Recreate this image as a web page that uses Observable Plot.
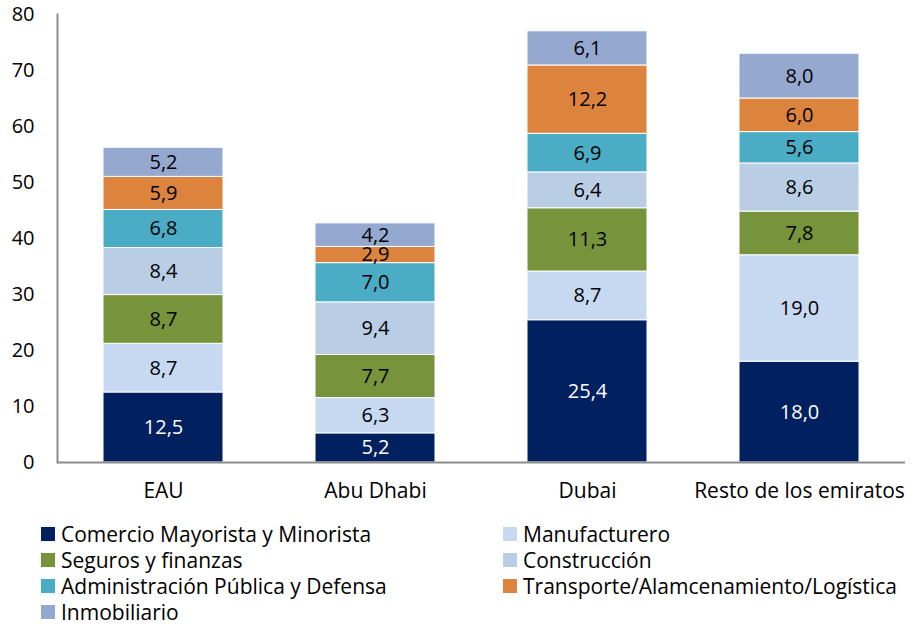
<!DOCTYPE html>
<html>
<head>
<meta charset="utf-8">
<script src="https://cdn.jsdelivr.net/npm/d3@7"></script>
<script src="https://cdn.jsdelivr.net/npm/@observablehq/plot@0.6"></script>
<style>
  body { margin: 0; background: #fff; font-family: "Open Sans", Lato, sans-serif; }
  #chart { width: 914px; }
  .legend { display: grid; grid-template-columns: 462px auto; margin-top: 11px; padding-left: 41px; font-size: 21px; color: #000; }
  .legend .item { display: flex; align-items: center; height: 26px; white-space: nowrap; }
  .legend .sw { width: 14px; height: 14px; margin-right: 6px; flex: none; }
</style>
</head>
<body>
<div id="chart"></div>
<script>
const categories = ["EAU", "Abu Dhabi", "Dubai", "Resto de los emiratos"];
const sectors = [
  "Comercio Mayorista y Minorista",
  "Manufacturero",
  "Seguros y finanzas",
  "Construcción",
  "Administración Pública y Defensa",
  "Transporte/Alamcenamiento/Logística",
  "Inmobiliario"
];
const colors = ["#002060", "#C6D9F1", "#77933C", "#B9CDE5", "#4BACC6", "#DC843E", "#95A9D0"];
const comercio       = [12.5, 5.2, 25.4, 18.0];
const manufacturero  = [8.7, 6.3, 8.7, 19.0];
const seguros        = [8.7, 7.7, 11.3, 7.8];
const construccion   = [8.4, 9.4, 6.4, 8.6];
const administracion = [6.8, 7.0, 6.9, 5.6];
const transporte     = [5.9, 2.9, 12.2, 6.0];
const inmobiliario   = [5.2, 4.2, 6.1, 8.0];
const yTicks = [0, 10, 20, 30, 40, 50, 60, 70, 80];

const series = [comercio, manufacturero, seguros, construccion, administracion, transporte, inmobiliario];
const data = [];
series.forEach((vals, si) => vals.forEach((v, ci) => data.push({cat: categories[ci], sector: sectors[si], value: v})));
const fmt = v => v.toFixed(1).replace(".", ",");

const chart = Plot.plot({
  width: 914,
  height: 510,
  marginLeft: 57,
  marginRight: 9,
  marginTop: 14,
  marginBottom: 48,
  style: {fontFamily: "'Open Sans', Lato, sans-serif", fontSize: "20px", color: "#000"},
  x: {domain: categories, paddingInner: 0.434, paddingOuter: 0.217, label: null},
  y: {domain: [0, 80], label: null},
  color: {domain: sectors, range: colors},
  marks: [
    Plot.barY(data, Plot.stackY({x: "cat", y: "value", fill: "sector", order: sectors, stroke: "#fff", strokeWidth: 1})),
    Plot.text(data, Plot.stackY({x: "cat", y: "value", z: "sector", order: sectors, text: d => fmt(d.value),
      fill: d => d.sector === sectors[0] ? "#fff" : "#000", fontSize: 20})),
    Plot.axisY({ticks: yTicks, tickSize: 0, tickPadding: 23, tickFormat: d => d, fontSize: 20, label: null}),
    Plot.axisX({tickSize: 0, tickPadding: 21, fontSize: 21, label: null}),
    Plot.frame({anchor: "left", stroke: "#8c8c8c", strokeWidth: 2}),
    Plot.ruleY([0], {stroke: "#8c8c8c", strokeWidth: 2})
  ]
});
const root = document.getElementById("chart");
root.appendChild(chart);

const legend = document.createElement("div");
legend.className = "legend";
sectors.forEach((s, i) => {
  const it = document.createElement("div");
  it.className = "item";
  const sw = document.createElement("span");
  sw.className = "sw";
  sw.style.background = colors[i];
  const tx = document.createElement("span");
  tx.textContent = s;
  it.appendChild(sw); it.appendChild(tx);
  legend.appendChild(it);
});
root.appendChild(legend);
</script>
</body>
</html>
